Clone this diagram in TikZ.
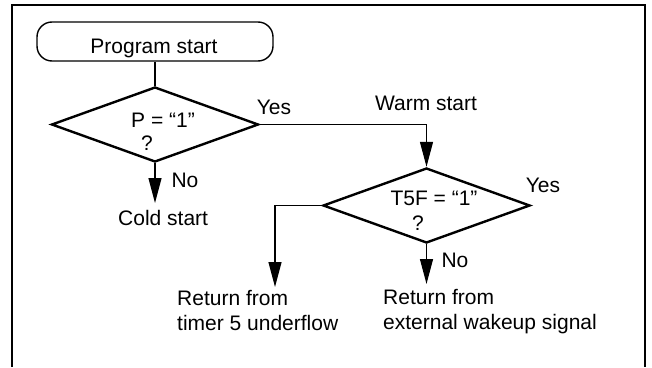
\documentclass[tikz,border=0pt]{standalone}
\usepackage{fontspec}
\setmainfont{Liberation Sans}
\usetikzlibrary{shapes.geometric,arrows.meta}
\tikzset{
  txt/.style={inner sep=0pt, anchor=base, font=\fontsize{21pt}{25pt}\selectfont},
  ltxt/.style={inner sep=0pt, anchor=base west, align=left, font=\fontsize{21pt}{25pt}\selectfont},
  dec/.style={draw, diamond, line width=2.4pt, inner sep=0pt, minimum width=207pt, minimum height=75pt},
  term/.style={draw, line width=1.4pt, rounded corners=15pt, minimum width=236pt, minimum height=39pt, inner sep=0pt},
  conn/.style={line width=1.2pt},
  arr/.style={conn, -{Triangle[length=25pt,width=13pt]}},
}
\begin{document}
\begin{tikzpicture}[x=1pt,y=-1pt]
\useasboundingbox (0,0) rectangle (652,367);
\draw[line width=2.2pt] (12,367) -- (12,5) -- (645,5) -- (645,367);

\node[term] (start) at (155,41.5) {};
\node[txt] (startT) at (154,53.5) {Program start};

\node[dec] (d1) at (155,124.5) {};
\node[txt] (d1a) at (163,127.5) {P = “1”};
\node[txt] (d1b) at (147,150.5) {?};

\node[dec] (d2) at (426.5,205.5) {};
\node[txt] (d2a) at (434,205.5) {T5F = “1”};
\node[txt] (d2b) at (418,230.5) {?};

\node[txt] (yes1) at (274,114.5) {Yes};
\node[txt] (no1) at (185,187.5) {No};
\node[txt] (warm) at (426,110.5) {Warm start};
\node[txt] (yes2) at (543,192.5) {Yes};
\node[txt] (no2) at (455,267.5) {No};
\node[ltxt] (cold) at (118,225.5) {Cold start};
\node[ltxt] (ret1) at (177,330.5) {Return from\\timer 5 underflow};
\node[ltxt] (ret2) at (383,329.5) {Return from\\external wakeup signal};

\coordinate (coldtip) at (155,203);
\coordinate (t5tip) at (275,287);
\coordinate (exttip) at (426.5,284);

\draw[conn] (start.south) -- (d1.north);
\draw[arr] (d1.east) -| (d2.north);
\draw[arr] (d1.south) -- (coldtip);
\draw[arr] (d2.west) -| (t5tip);
\draw[arr] (d2.south) -- (exttip);
\end{tikzpicture}
\end{document}
